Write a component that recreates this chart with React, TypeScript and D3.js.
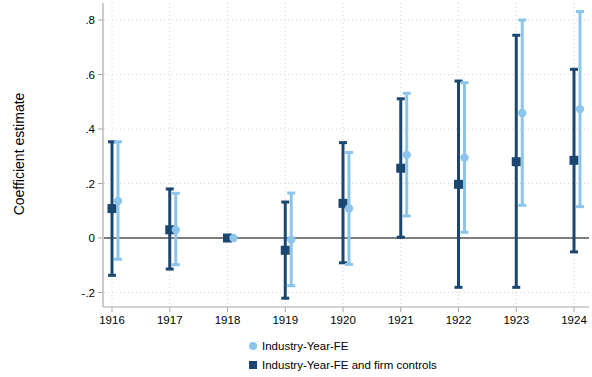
import React from "react";
import * as d3 from "d3";

const years = [1916, 1917, 1918, 1919, 1920, 1921, 1922, 1923, 1924];
const yTicks = [-0.2, 0, 0.2, 0.4, 0.6, 0.8];
const yTickLabels = ["-.2", "0", ".2", ".4", ".6", ".8"];

// Industry-Year-FE
const feEst = [0.136, 0.030, 0, -0.006, 0.108, 0.305, 0.295, 0.459, 0.473];
const feLo = [-0.078, -0.098, 0, -0.175, -0.097, 0.081, 0.021, 0.120, 0.115];
const feHi = [0.353, 0.164, 0, 0.165, 0.314, 0.531, 0.570, 0.800, 0.831];

// Industry-Year-FE and firm controls
const fcEst = [0.108, 0.030, 0, -0.045, 0.127, 0.256, 0.197, 0.280, 0.285];
const fcLo = [-0.137, -0.114, 0, -0.221, -0.091, 0.003, -0.181, -0.181, -0.051];
const fcHi = [0.353, 0.180, 0, 0.132, 0.350, 0.511, 0.576, 0.744, 0.619];

const legendLabels = ["Industry-Year-FE", "Industry-Year-FE and firm controls"];

const DARK = "#1b4670";
const LIGHT = "#8cc4ea";

export default function App() {
  const W = 592, H = 377;
  const x = d3.scaleLinear().domain([1916, 1924]).range([112, 574]);
  const y = d3.scaleLinear().domain([0, 0.8]).range([238, 20]);
  const off = 6;
  const font = "'Liberation Sans', Arial, sans-serif";

  const bars = (est: number[], lo: number[], hi: number[], dx: number, color: string, square: boolean) =>
    years.map((yr, i) => {
      const cx = x(yr) + dx;
      return (
        <g key={`${color}-${yr}`}>
          {hi[i] !== lo[i] && (
            <>
              <line x1={cx} x2={cx} y1={y(lo[i])} y2={y(hi[i])} stroke={color} strokeWidth={3} />
              <line x1={cx - 4} x2={cx + 4} y1={y(lo[i])} y2={y(lo[i])} stroke={color} strokeWidth={3} />
              <line x1={cx - 4} x2={cx + 4} y1={y(hi[i])} y2={y(hi[i])} stroke={color} strokeWidth={3} />
            </>
          )}
          {square ? (
            <rect x={cx - 4.5} y={y(est[i]) - 4.5} width={9} height={9} fill={color} />
          ) : (
            <circle cx={cx} cy={y(est[i])} r={4.2} fill={color} />
          )}
        </g>
      );
    });

  return (
    <svg width={W} height={H} style={{ position: "absolute", left: 0, top: 0, background: "#fff" }}>
      <rect width={W} height={H} fill="#fff" />
      {/* grid */}
      {yTicks.map((t) => (
        <line key={`gy${t}`} x1={104} x2={589} y1={y(t)} y2={y(t)} stroke="#d4d4d4" strokeWidth={1} strokeDasharray="1,3" />
      ))}
      {years.map((yr) => (
        <line key={`gx${yr}`} x1={x(yr)} x2={x(yr)} y1={3} y2={306} stroke="#d4d4d4" strokeWidth={1} strokeDasharray="1,3" />
      ))}
      {/* zero line */}
      <line x1={104} x2={589} y1={y(0)} y2={y(0)} stroke="#000" strokeWidth={1} />
      {/* axes */}
      <line x1={103} x2={103} y1={3} y2={307} stroke="#a8a8a8" strokeWidth={1.2} />
      <line x1={103} x2={589} y1={307} y2={307} stroke="#a8a8a8" strokeWidth={1.2} />
      {yTicks.map((t, i) => (
        <g key={`yt${t}`}>
          <line x1={98} x2={103} y1={y(t)} y2={y(t)} stroke="#a8a8a8" strokeWidth={1} />
          <text x={95} y={y(t)} dy="0.35em" textAnchor="end" fontFamily={font} fontSize={11.5} fill="#000">
            {yTickLabels[i]}
          </text>
        </g>
      ))}
      {years.map((yr) => (
        <g key={`xt${yr}`}>
          <line x1={x(yr)} x2={x(yr)} y1={307} y2={312} stroke="#a8a8a8" strokeWidth={1} />
          <text x={x(yr)} y={324} textAnchor="middle" fontFamily={font} fontSize={11.5} fill="#000">
            {yr}
          </text>
        </g>
      ))}
      <text
        transform={`translate(24,154) rotate(-90)`}
        textAnchor="middle"
        fontFamily={font}
        fontSize={14}
        fill="#000"
      >
        Coefficient estimate
      </text>
      {bars(fcEst, fcLo, fcHi, 0, DARK, true)}
      {bars(feEst, feLo, feHi, off, LIGHT, false)}
      {/* legend */}
      <circle cx={253} cy={346} r={4} fill={LIGHT} />
      <text x={262} y={346} dy="0.35em" fontFamily={font} fontSize={11.5} fill="#000">{legendLabels[0]}</text>
      <rect x={249} y={361} width={8} height={8} fill={DARK} />
      <text x={262} y={365} dy="0.35em" fontFamily={font} fontSize={11.5} fill="#000">{legendLabels[1]}</text>
    </svg>
  );
}
